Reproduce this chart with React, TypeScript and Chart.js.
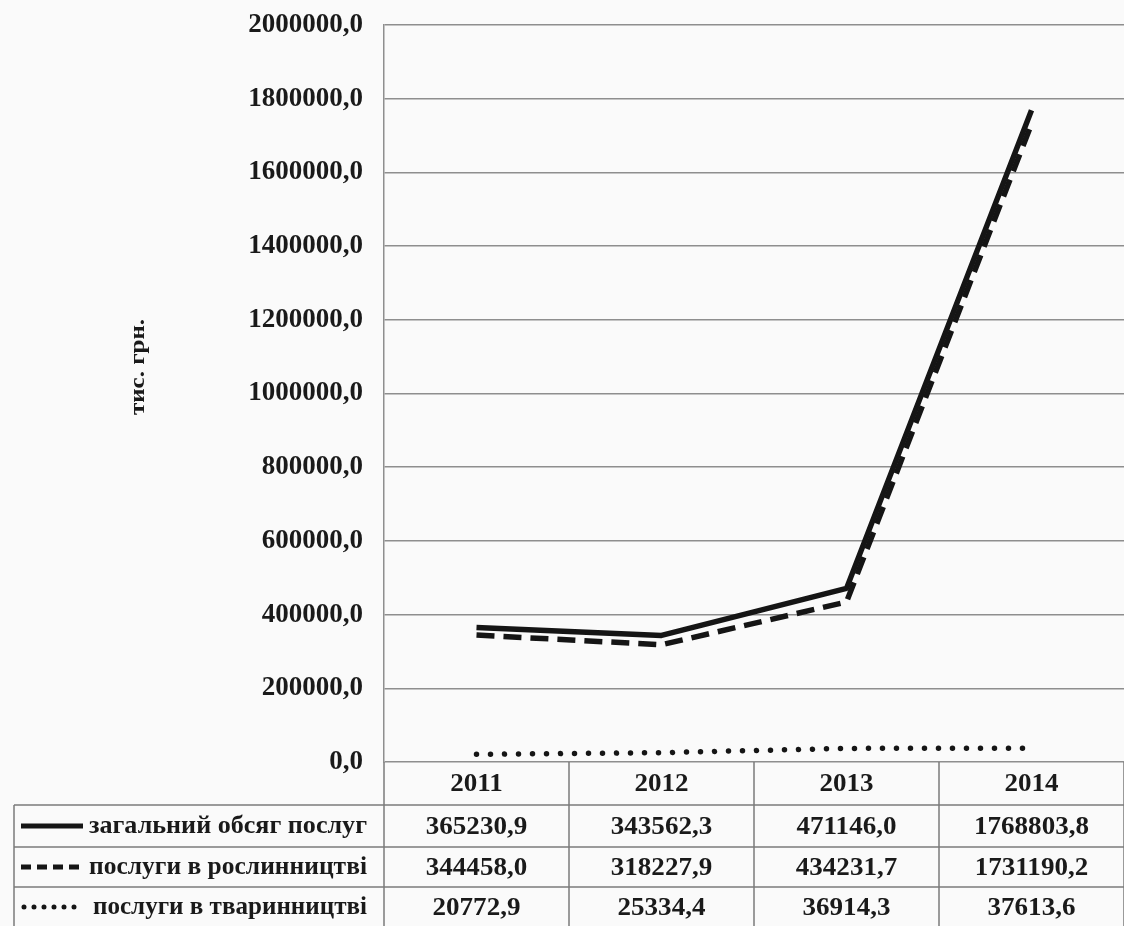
import React, { useEffect, useRef } from "react";
import { Chart, registerables } from "chart.js";

Chart.register(...registerables);

const years = ["2011", "2012", "2013", "2014"];
const seriesNames = [
  "загальний обсяг послуг",
  "послуги в рослинництві",
  "послуги в тваринництві",
];
const totalServices = [365230.9, 343562.3, 471146.0, 1768803.8];
const cropServices = [344458.0, 318227.9, 434231.7, 1731190.2];
const livestockServices = [20772.9, 25334.4, 36914.3, 37613.6];
const yAxisTitle = "тис. грн.";
const yMin = 0;
const yMax = 2000000;
const yStep = 200000;

const fmt = (v: number) => v.toFixed(1).replace(".", ",");

const SERIF = "'Liberation Serif', 'Times New Roman', serif";
const TEXT = "#1a1a1a";
const GRID = "#8e8e8e";
const TABLE_LINE = "#7a7a7a";

const dashStyles = [
  { dash: [] as number[], cap: "butt" as CanvasLineCap, keyDash: [] as number[], keyCap: "butt" as CanvasLineCap },
  { dash: [18, 9], cap: "butt" as CanvasLineCap, keyDash: [10, 6], keyCap: "butt" as CanvasLineCap },
  { dash: [0.001, 14], cap: "round" as CanvasLineCap, keyDash: [0.001, 10], keyCap: "round" as CanvasLineCap },
];

const allSeries = [totalServices, cropServices, livestockServices];

const bgPlugin = {
  id: "bg",
  beforeDraw(chart: any) {
    const ctx = chart.ctx;
    ctx.save();
    ctx.fillStyle = "#fafafa";
    ctx.fillRect(0, 0, chart.width, chart.height);
    ctx.restore();
  },
};

function drawStretched(
  ctx: CanvasRenderingContext2D,
  text: string,
  x: number,
  y: number,
  align: "left" | "center",
  sx: number
) {
  ctx.save();
  ctx.translate(x, y);
  ctx.scale(sx, 1);
  ctx.textAlign = align;
  ctx.textBaseline = "middle";
  ctx.fillText(text, 0, 0);
  ctx.restore();
}

const tablePlugin = {
  id: "dataTable",
  afterDraw(chart: any) {
    const ctx: CanvasRenderingContext2D = chart.ctx;
    const area = chart.chartArea;
    const xs = chart.scales.x;
    const n = years.length;
    const centers = years.map((_, i) => xs.getPixelForValue(i));
    const edges: number[] = [area.left];
    for (let i = 0; i < n - 1; i++) edges.push((centers[i] + centers[i + 1]) / 2);
    edges.push(area.right);

    const tableLeft = 14;
    const rowHeights = [43, 42, 40, 40];
    const rowTops: number[] = [];
    let y = area.bottom;
    for (const h of rowHeights) {
      rowTops.push(y);
      y += h;
    }
    const tableBottom = y;

    ctx.save();
    ctx.strokeStyle = TABLE_LINE;
    ctx.lineWidth = 1.5;
    for (let r = 1; r < rowTops.length; r++) {
      ctx.beginPath();
      ctx.moveTo(tableLeft, rowTops[r]);
      ctx.lineTo(area.right, rowTops[r]);
      ctx.stroke();
    }
    for (let i = 0; i < edges.length; i++) {
      ctx.beginPath();
      ctx.moveTo(edges[i], area.bottom);
      ctx.lineTo(edges[i], tableBottom);
      ctx.stroke();
    }
    ctx.beginPath();
    ctx.moveTo(tableLeft, rowTops[1]);
    ctx.lineTo(tableLeft, tableBottom);
    ctx.stroke();

    ctx.fillStyle = TEXT;
    ctx.font = `bold 26px ${SERIF}`;
    const headerMid = rowTops[0] + rowHeights[0] / 2 + 1;
    years.forEach((yr, i) => drawStretched(ctx, yr, centers[i], headerMid, "center", 1.04));

    allSeries.forEach((vals, s) => {
      const top = rowTops[s + 1];
      const mid = top + rowHeights[s + 1] / 2 + 1;
      ctx.fillStyle = TEXT;
      ctx.font = `bold 26px ${SERIF}`;
      vals.forEach((v, i) => drawStretched(ctx, fmt(v), centers[i], mid, "center", 1.04));

      const st = dashStyles[s];
      ctx.save();
      ctx.strokeStyle = "#151515";
      ctx.lineWidth = 5;
      ctx.setLineDash(st.keyDash);
      ctx.lineCap = st.keyCap;
      ctx.beginPath();
      ctx.moveTo(s === 2 ? 24 : 21, mid - 1);
      ctx.lineTo(s === 2 ? 80 : 83, mid - 1);
      ctx.stroke();
      ctx.restore();

      ctx.font = `bold 25px ${SERIF}`;
      const name = seriesNames[s];
      const left = s === 2 ? 93 : 89;
      const target = 367 - left;
      const w = ctx.measureText(name).width;
      drawStretched(ctx, name, left, mid, "left", target / w);
    });

    ctx.save();
    ctx.fillStyle = TEXT;
    ctx.font = `bold 20px ${SERIF}`;
    ctx.translate(139, 367);
    ctx.rotate(-Math.PI / 2);
    ctx.scale(1.25, 1);
    ctx.textAlign = "center";
    ctx.textBaseline = "middle";
    ctx.fillText(yAxisTitle, 0, 0);
    ctx.restore();

    ctx.restore();
  },
};

export default function App() {
  const ref = useRef<HTMLCanvasElement | null>(null);

  useEffect(() => {
    document.body.style.margin = "0";
    const canvas = ref.current;
    if (!canvas) return;
    const chart = new Chart(canvas, {
      type: "line",
      data: {
        labels: years,
        datasets: allSeries.map((vals, s) => ({
          label: seriesNames[s],
          data: vals,
          borderColor: "#151515",
          backgroundColor: "#151515",
          borderWidth: 5.5,
          borderDash: dashStyles[s].dash,
          borderCapStyle: dashStyles[s].cap,
          borderJoinStyle: "round",
          pointRadius: 0,
          tension: 0,
          fill: false,
        })),
      },
      options: {
        animation: false,
        responsive: false,
        devicePixelRatio: 1,
        layout: { padding: { left: 0, top: 25, right: 0, bottom: 164 } },
        plugins: {
          legend: { display: false },
          tooltip: { enabled: false },
          title: { display: false },
        },
        scales: {
          x: {
            type: "category",
            display: false,
            offset: true,
          },
          y: {
            min: yMin,
            max: yMax,
            ticks: {
              stepSize: yStep,
              padding: 21,
              color: TEXT,
              font: { family: SERIF, weight: "bold", size: 27 },
              callback: (v: any) => fmt(Number(v)),
            },
            grid: { color: GRID, lineWidth: 1.5, drawTicks: false },
            border: { color: GRID, width: 1.5 },
            afterFit: (s: any) => {
              s.width = 384;
              s.paddingTop = 0;
              s.paddingBottom = 0;
            },
          },
        },
      } as any,
      plugins: [bgPlugin, tablePlugin],
    });
    return () => chart.destroy();
  }, []);

  return (
    <div style={{ position: "absolute", left: 0, top: 0, width: 1124, height: 926 }}>
      <canvas ref={ref} width={1124} height={926} style={{ width: 1124, height: 926, display: "block" }} />
    </div>
  );
}
